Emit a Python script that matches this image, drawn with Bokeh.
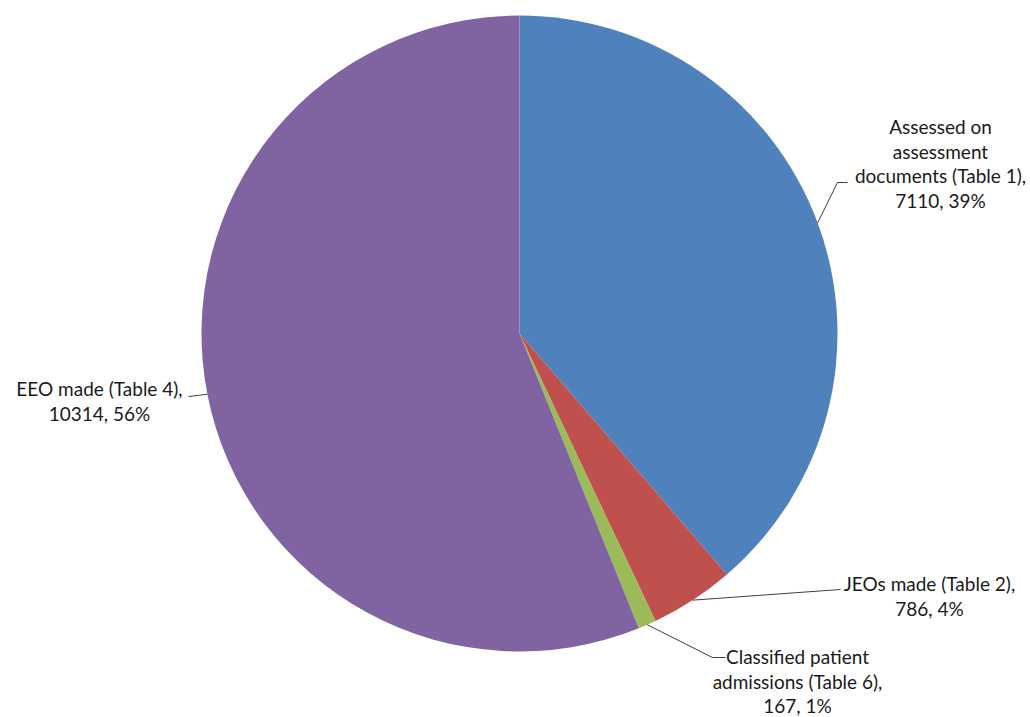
import math
from bokeh.plotting import figure
from bokeh.models import Range1d
from bokeh.core.properties import value
from bokeh.embed import file_html
from bokeh.resources import INLINE

# ---- data ----
categories = [
    "Assessed on assessment documents (Table 1)",
    "JEOs made (Table 2)",
    "Classified patient admissions (Table 6)",
    "EEO made (Table 4)",
]
counts = [7110, 786, 167, 10314]
colors = ["#4F81BD", "#C0504D", "#9BBB59", "#8064A2"]
# how each category name is broken into lines in its label
name_lines = [
    ["Assessed on", "assessment", "documents (Table 1),"],
    ["JEOs made (Table 2),"],
    ["Classified patient", "admissions (Table 6),"],
    ["EEO made (Table 4),"],
]

# ---- layout (pixel coordinates, y measured from top) ----
W, H = 1030, 717
CX, CY, R = 519, 333, 318
label_cx = [940, 929, 797, 99]
label_top = [126, 583, 656, 388]
line_h = 24.6
# leader elbow points (from slice edge -> elbow -> end near text)
leader_pts = [
    [(837, 182), (847, 182)],
    [(840, 589)],
    [(712, 657), (725, 657)],
    [(188, 396)],
]

FONT = "Lato"
FS = "19px"

p = figure(width=W, height=H, x_range=Range1d(0, W), y_range=Range1d(0, H),
           output_backend="svg", toolbar_location=None, min_border=0)
p.axis.visible = False
p.grid.visible = False
p.outline_line_color = None
p.background_fill_color = "white"
p.border_fill_color = "white"

total = sum(counts)
cum = 0
starts, ends, mids = [], [], []
for c in counts:
    a0 = math.pi / 2 - 2 * math.pi * cum / total
    cum += c
    a1 = math.pi / 2 - 2 * math.pi * cum / total
    starts.append(a0)
    ends.append(a1)
    mids.append((a0 + a1) / 2)

p.wedge(x=[CX] * len(counts), y=[H - CY] * len(counts), radius=R,
        start_angle=starts, end_angle=ends, direction="clock",
        fill_color=colors, line_color=None)

# leaders
for i, m in enumerate(mids):
    ex = CX + R * math.cos(m)
    ey = (H - CY) + R * math.sin(m)
    xs = [ex] + [pt[0] for pt in leader_pts[i]]
    ys = [ey] + [H - pt[1] for pt in leader_pts[i]]
    p.line(xs, ys, line_color="#404040", line_width=1)

# labels
for i, c in enumerate(counts):
    pct = round(100 * c / total)
    lines = name_lines[i] + [f"{c}, {pct}%"]
    xs = [label_cx[i]] * len(lines)
    ys = [H - (label_top[i] + k * line_h) for k in range(len(lines))]
    p.text(x=xs, y=ys, text=lines, text_align="center", text_baseline="middle",
           text_font=value(FONT), text_font_size=FS, text_color="#1a1a1a")

open("out.html", "w").write(file_html(p, INLINE))
